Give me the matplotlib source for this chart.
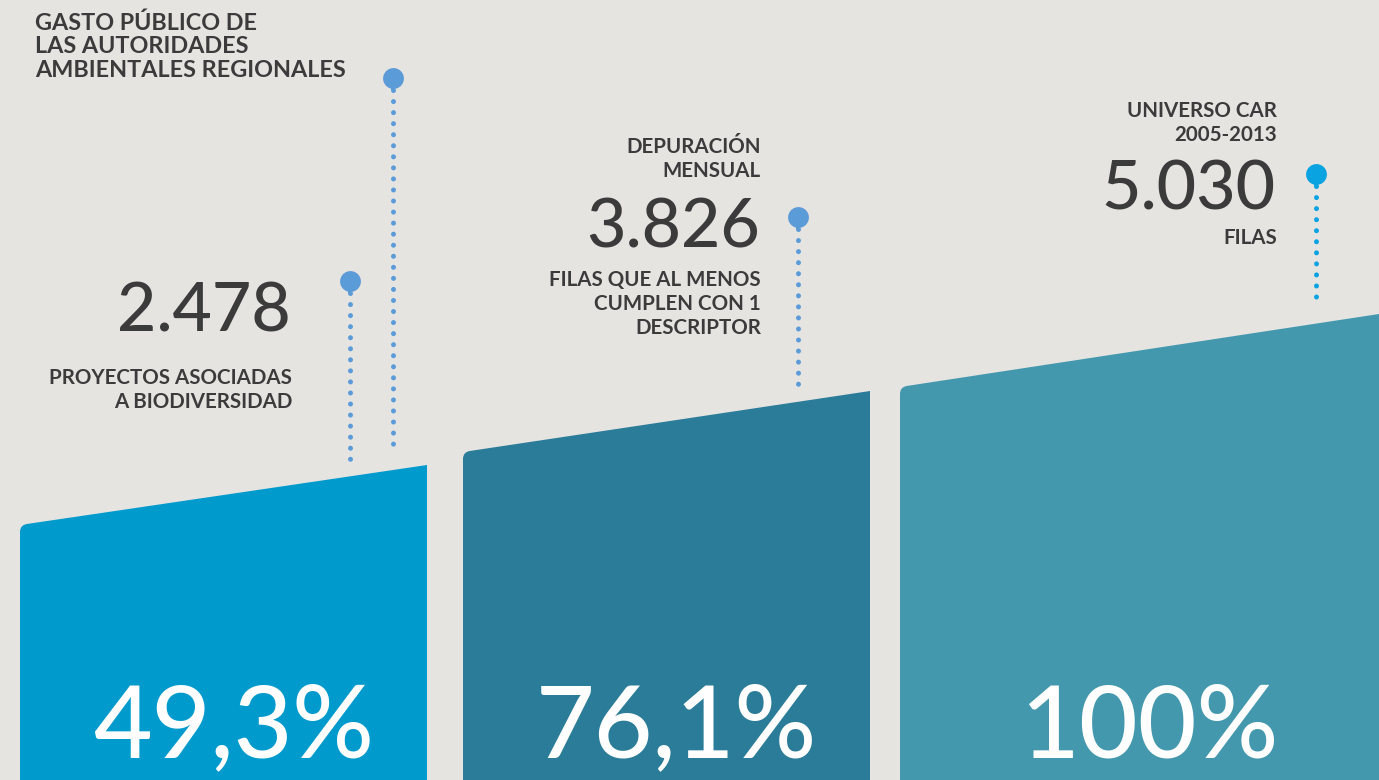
"""Infografía: universo CAR 2005-2013 -> depuración -> proyectos de biodiversidad."""
import matplotlib

matplotlib.use("Agg")
import matplotlib.pyplot as plt
from matplotlib.patches import PathPatch
from matplotlib.path import Path

# --- data ---
pct_labels = ["49,3%", "76,1%", "100%"]
counts = ["2.478", "3.826", "5.030"]
count_notes = [
    "PROYECTOS ASOCIADAS\nA BIODIVERSIDAD",
    "FILAS QUE AL MENOS\nCUMPLEN CON 1\nDESCRIPTOR",
    "FILAS",
]
step_titles = ["", "DEPURACIÓN\nMENSUAL", "UNIVERSO CAR\n2005-2013"]
header = "GASTO PÚBLICO DE\nLAS AUTORIDADES\nAMBIENTALES REGIONALES"
bar_h_left = [255, 328, 393]     # bar height at left edge (px from bottom)
bar_h_right = [315, 389, 466]    # bar height at right edge

# --- layout / style ---
W, H = 1379, 780
bar_x = [(20, 427), (463, 870), (900, 1379)]
bar_colors = ["#019acd", "#2b7c98", "#4398ae"]
bg = "#e6e4e1"
ink = "#3b3b3b"
FONT = ["Lato", "DejaVu Sans"]

fig = plt.figure(figsize=(W / 100, H / 100), dpi=100, facecolor=bg)
ax = fig.add_axes([0, 0, 1, 1])
ax.set_xlim(0, W)
ax.set_ylim(0, H)
ax.set_facecolor(bg)
ax.axis("off")

# sloped-top bars with a slightly rounded top-left corner
for (x0, x1), hl, hr, c in zip(bar_x, bar_h_left, bar_h_right, bar_colors):
    r = 7
    slope = (hr - hl) / (x1 - x0)
    verts = [(x0, 0), (x0, hl - r), (x0, hl), (x0 + r, hl + slope * r),
             (x1, hr), (x1, 0), (x0, 0)]
    codes = [Path.MOVETO, Path.LINETO, Path.CURVE3, Path.CURVE3,
             Path.LINETO, Path.LINETO, Path.CLOSEPOLY]
    ax.add_patch(PathPatch(Path(verts, codes), fc=c, ec="none", zorder=2))

# big percentages inside bars
for (x0, x1), lab in zip(bar_x, pct_labels):
    xc = (x0 + min(x1, W)) / 2 + 10
    ax.text(xc, H - 729, lab, color="white", fontsize=73, fontweight="medium",
            family=FONT, ha="center", va="center", zorder=3)


def pin(x, y_top, y_bot, color):
    ax.plot([x, x], [H - y_top - 12, H - y_bot], color=color, lw=3.6,
            ls=(0, (0.01, 2.2)), dash_capstyle="round", zorder=4)
    ax.plot([x, x], [H - y_top, H - y_top - 11], color=color, lw=3,
            solid_capstyle="round", zorder=4)
    ax.plot(x, H - y_top, "o", ms=15, color=color, mec="none", zorder=5)


pin(350, 281, 460, "#5b9bd8")
pin(393, 78, 446, "#5b9bd8")
pin(798, 217, 385, "#5b9bd8")
pin(1316, 174, 297, "#0aa3e2")

# header, top-left
ax.text(35, H - 12, header, color=ink, fontsize=16.8, fontweight="bold",
        family=FONT, ha="left", va="top", linespacing=1.15)

# counts and notes
count_x = [291, 760, 1276]
count_y = [313, 228, 190]
note_y = [368, 270, 228]
for i in range(3):
    ax.text(count_x[i], H - count_y[i], counts[i], color=ink, fontsize=49,
            fontweight="medium", family=FONT, ha="right", va="center")
    ax.text(count_x[i] + 1, H - note_y[i], count_notes[i], color=ink,
            fontsize=14.8, fontweight="bold", family=FONT, ha="right",
            va="top", linespacing=1.25)

title_y = [0, 137, 101]
for i in (1, 2):
    ax.text(count_x[i] + 1, H - title_y[i], step_titles[i], color=ink,
            fontsize=14.8, fontweight="bold", family=FONT, ha="right",
            va="top", linespacing=1.25)

fig.savefig("out.png", dpi=100, facecolor=bg)
plt.close()
